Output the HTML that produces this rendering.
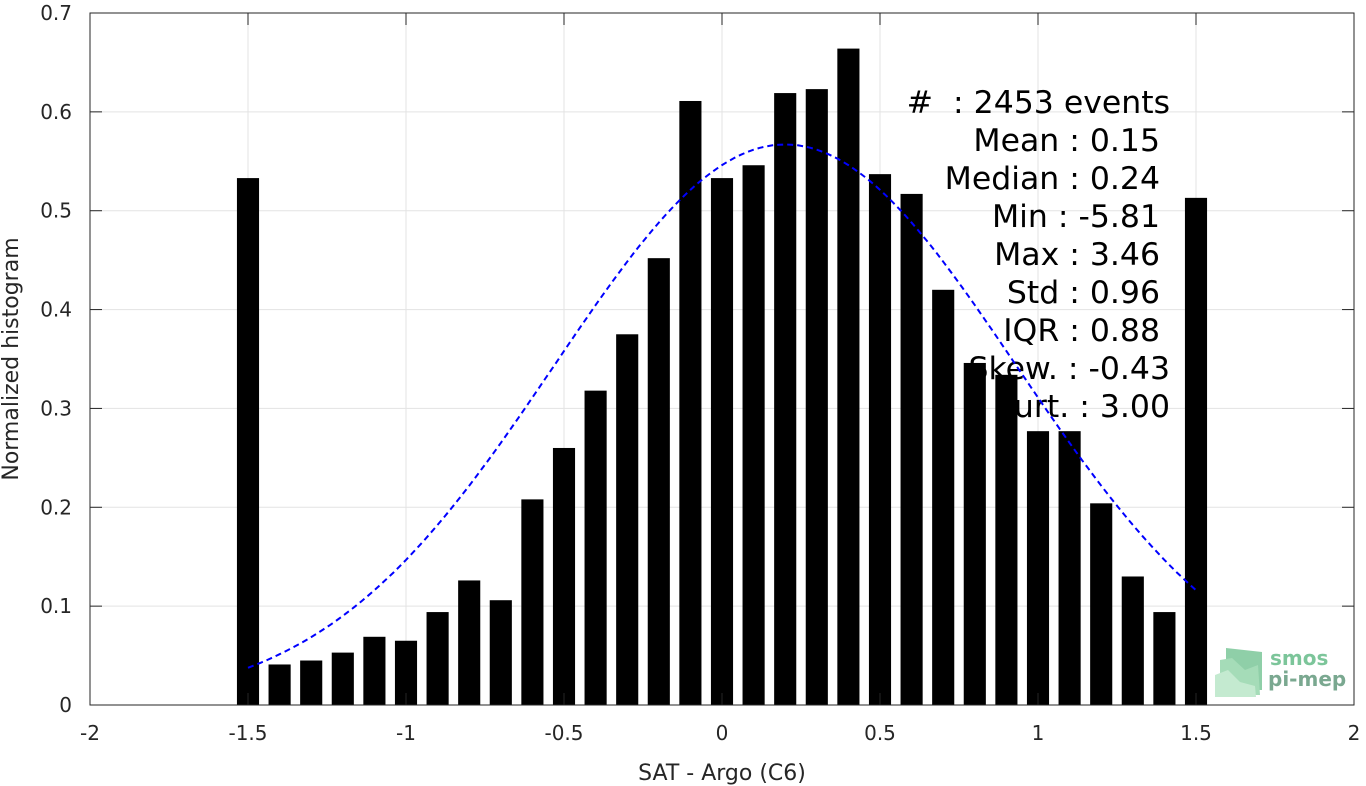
<!DOCTYPE html>
<html><head><meta charset="utf-8"><style>
html,body{margin:0;padding:0;background:#fff;}
svg{display:block;font-family:"Liberation Sans","DejaVu Sans",sans-serif;}
</style></head><body>
<svg id="chart" width="1366" height="786">
<g id="grid"></g>
<g id="stats" font-family="DejaVu Sans, sans-serif" font-size="31.5" fill="#000" text-anchor="end"></g>
<g id="bars"></g>
<path id="fit" fill="none" stroke="#0000ff" stroke-width="2" stroke-dasharray="6,4"/>
<g id="axes"></g>
<g>
<polygon points="1226,648 1262,652 1262,690 1226,690" fill="#8fcfa8"/>
<polygon points="1220,660 1232,658 1245,670 1258,665 1260,695 1220,695" fill="#a5dcb8"/>
<polygon points="1215,675 1228,670 1240,682 1255,686 1256,697 1215,697" fill="#c4ead0"/>
<text x="1270" y="665" font-size="20" font-weight="bold" fill="#7cc59a" font-family="DejaVu Sans, sans-serif">smos</text>
<text x="1268" y="686" font-size="20" font-weight="bold" fill="#7aa890" font-family="DejaVu Sans, sans-serif">pi-mep</text>
</g>
</svg>
<script>
const binCenters=[-1.5,-1.4,-1.3,-1.2,-1.1,-1.0,-0.9,-0.8,-0.7,-0.6,-0.5,-0.4,-0.3,-0.2,-0.1,0,0.1,0.2,0.3,0.4,0.5,0.6,0.7,0.8,0.9,1.0,1.1,1.2,1.3,1.4,1.5];
const binValues=[0.533,0.041,0.045,0.053,0.069,0.065,0.094,0.126,0.106,0.208,0.260,0.318,0.375,0.452,0.611,0.533,0.546,0.619,0.623,0.664,0.537,0.517,0.420,0.346,0.334,0.277,0.277,0.204,0.130,0.094,0.513];
const fitMean=0.2, fitStd=0.73, fitPeak=0.567;
const xTicks=[-2,-1.5,-1,-0.5,0,0.5,1,1.5,2];
const yTicks=[0,0.1,0.2,0.3,0.4,0.5,0.6,0.7];
const statLines=["#\u00a0\u00a0: 2453 events","Mean : 0.15","Median : 0.24","Min : -5.81","Max : 3.46","Std : 0.96","IQR : 0.88","Skew. : -0.43","Kurt. : 3.00"];
const statRight=[1170,1160,1160,1160,1160,1160,1160,1170,1170];

const X0=90,X1=1354,Y0=705,Y1=13;
const sx=v=>X0+(v+2)/4*(X1-X0);
const sy=v=>Y0-v/0.7*(Y0-Y1);
const NS="http://www.w3.org/2000/svg";
function mk(tag,attrs,parent){const e=document.createElementNS(NS,tag);for(const k in attrs)e.setAttribute(k,attrs[k]);parent.appendChild(e);return e;}
const grid=document.getElementById('grid'),axes=document.getElementById('axes'),bars=document.getElementById('bars'),stats=document.getElementById('stats');
mk('rect',{x:X0,y:Y1,width:X1-X0,height:Y0-Y1,fill:'#fff'},grid);
xTicks.forEach(t=>{
 const l=mk('line',{x1:sx(t),x2:sx(t),y1:Y1,y2:Y0,stroke:'#e3e3e3','stroke-width':1},grid);
 
 
 mk('line',{x1:sx(t),x2:sx(t),y1:Y0,y2:Y0-12,stroke:'#262626'},axes);
 mk('line',{x1:sx(t),x2:sx(t),y1:Y1,y2:Y1+12,stroke:'#262626'},axes);
 const tx=mk('text',{x:sx(t),y:Y0+35,'font-size':20,fill:'#262626','text-anchor':'middle','font-family':'DejaVu Sans, sans-serif'},axes);
 tx.textContent=String(t);
 
 
});
yTicks.forEach(t=>{
 const l=mk('line',{x1:X0,x2:X1,y1:sy(t),y2:sy(t),stroke:'#e3e3e3','stroke-width':1},grid);
 
 
 mk('line',{x1:X0,x2:X0+12,y1:sy(t),y2:sy(t),stroke:'#262626'},axes);
 mk('line',{x1:X1,x2:X1-12,y1:sy(t),y2:sy(t),stroke:'#262626'},axes);
 const tx=mk('text',{x:X0-18,y:sy(t)+7,'font-size':20,fill:'#262626','text-anchor':'end','font-family':'DejaVu Sans, sans-serif'},axes);
 tx.textContent=String(t);
 
 
});
mk('rect',{x:X0,y:Y1,width:X1-X0,height:Y0-Y1,fill:'none',stroke:'#262626','stroke-width':1},axes);
const xl=mk('text',{x:722,y:780,'font-size':22,fill:'#262626','text-anchor':'middle','font-family':'DejaVu Sans, sans-serif'},axes);
xl.textContent='SAT - Argo (C6)';


const yl=mk('text',{x:0,y:0,'font-size':22,fill:'#262626','text-anchor':'middle','font-family':'DejaVu Sans, sans-serif',transform:'translate(18,359) rotate(-90)'},axes);
yl.textContent='Normalized histogram';


statLines.forEach((s,i)=>{
 const t=mk('text',{x:statRight[i],y:113+i*38},stats);
 t.textContent=s;
 
 
});
const bw=0.07/4*(X1-X0);
binCenters.forEach((c,i)=>{
 const r=mk('rect',{x:sx(c)-bw/2,y:sy(binValues[i]),width:bw,height:Y0-sy(binValues[i]),fill:'#000'},bars);
 
 
});
let d='';
for(let i=0;i<=150;i++){const x=-1.5+3*i/150;const y=fitPeak*Math.exp(-((x-fitMean)**2)/(2*fitStd*fitStd));d+=(i?'L':'M')+sx(x).toFixed(1)+','+sy(y).toFixed(1);}
document.getElementById('fit').setAttribute('d',d);
</script>
</body></html>
